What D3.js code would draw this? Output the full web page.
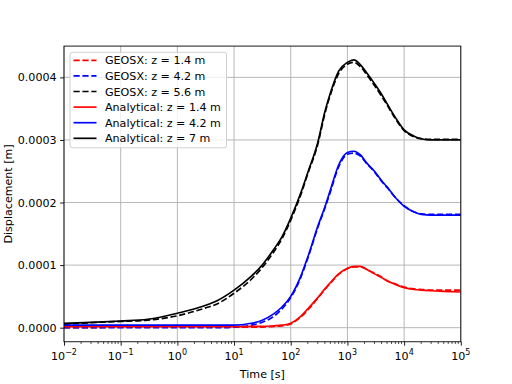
<!DOCTYPE html>
<html>
<head>
<meta charset="utf-8">
<script src="https://cdn.jsdelivr.net/npm/d3@7"></script>
<style>
  body { margin: 0; background: #fff; }
</style>
</head>
<body>
<script>
// values are in units of 1e-4 m
const UNIT = 1e-4;
const FONT = "DejaVu Sans";

const timeSteps = [0.01, 0.03, 0.1, 0.3, 1, 3, 5, 10, 20, 30, 50, 70, 100, 150, 200, 300, 400, 500, 700,
  1000, 1300, 1700, 2200, 3000, 4000, 5000, 7000, 10000, 15000, 20000, 30000, 50000, 100000];

const geosx14 = [0.00, 0.00, 0.01, 0.01, 0.01, 0.01, 0.01, 0.01, 0.01, 0.01, 0.02, 0.03, 0.06, 0.17, 0.28, 0.47,
  0.61, 0.71, 0.85, 0.94, 0.97, 0.97, 0.93, 0.87, 0.81, 0.75, 0.70, 0.65, 0.62, 0.61, 0.60, 0.60, 0.60];
const geosx42 = [0.00, 0.00, 0.00, 0.00, 0.00, 0.00, 0.00, 0.01, 0.04, 0.08, 0.18, 0.30, 0.48, 0.80, 1.11, 1.60,
  1.91, 2.17, 2.57, 2.77, 2.79, 2.74, 2.62, 2.49, 2.34, 2.24, 2.08, 1.95, 1.85, 1.82, 1.81, 1.81, 1.81];
const geosx56 = [0.055, 0.08, 0.10, 0.12, 0.19, 0.31, 0.38, 0.55, 0.77, 0.94, 1.21, 1.42, 1.72, 2.12, 2.46, 2.93,
  3.42, 3.72, 4.06, 4.21, 4.24, 4.17, 4.04, 3.87, 3.70, 3.56, 3.34, 3.15, 3.05, 3.02, 3.01, 3.01, 3.01];

const analytic14 = [0.015, 0.015, 0.015, 0.015, 0.015, 0.015, 0.015, 0.015, 0.02, 0.02, 0.03, 0.04, 0.07, 0.18, 0.30, 0.48,
  0.62, 0.72, 0.86, 0.95, 0.98, 0.98, 0.93, 0.86, 0.80, 0.75, 0.69, 0.64, 0.61, 0.60, 0.59, 0.58, 0.57];
const analytic42 = [0.04, 0.04, 0.04, 0.04, 0.04, 0.04, 0.04, 0.04, 0.07, 0.11, 0.22, 0.33, 0.50, 0.82, 1.13, 1.62,
  1.93, 2.20, 2.60, 2.80, 2.82, 2.76, 2.63, 2.50, 2.35, 2.25, 2.08, 1.94, 1.85, 1.81, 1.80, 1.80, 1.80];
const analytic7 = [0.07, 0.085, 0.107, 0.134, 0.23, 0.35, 0.43, 0.60, 0.82, 0.98, 1.25, 1.45, 1.75, 2.15, 2.48, 2.96,
  3.45, 3.75, 4.10, 4.24, 4.28, 4.20, 4.07, 3.90, 3.73, 3.58, 3.36, 3.16, 3.06, 3.02, 3.00, 3.00, 3.00];

const series = [
  { label: "GEOSX: z = 1.4 m", values: geosx14, color: "#ff0000", dashed: true },
  { label: "GEOSX: z = 4.2 m", values: geosx42, color: "#0000ff", dashed: true },
  { label: "GEOSX: z = 5.6 m", values: geosx56, color: "#000000", dashed: true },
  { label: "Analytical: z = 1.4 m", values: analytic14, color: "#ff0000", dashed: false },
  { label: "Analytical: z = 4.2 m", values: analytic42, color: "#0000ff", dashed: false },
  { label: "Analytical: z = 7 m", values: analytic7, color: "#000000", dashed: false },
];

const xTicks = [1e-2, 1e-1, 1e0, 1e1, 1e2, 1e3, 1e4, 1e5];
const yTicks = [0, 0.0001, 0.0002, 0.0003, 0.0004];

const width = 512, height = 384;
const axLeft = 64, axRight = 460.8, axTop = 46.08, axBottom = 341.76;

const svg = d3.select("body").append("svg")
  .attr("width", width).attr("height", height)
  .attr("font-family", FONT);

const x = d3.scaleLog().domain([1e-2, 1e5]).range([axLeft, axRight]);
const y = d3.scaleLinear().domain([-0.0000225, 0.00045]).range([axBottom, axTop]);

// grid
const grid = svg.append("g").attr("stroke", "#b0b0b0").attr("stroke-width", 0.9);
xTicks.forEach(t => {
  grid.append("line").attr("x1", x(t)).attr("x2", x(t)).attr("y1", axTop).attr("y2", axBottom);
});
yTicks.forEach(v => {
  grid.append("line").attr("x1", axLeft).attr("x2", axRight).attr("y1", y(v)).attr("y2", y(v));
});

svg.append("clipPath").attr("id", "clip")
  .append("rect").attr("x", axLeft).attr("y", axTop)
  .attr("width", axRight - axLeft).attr("height", axBottom - axTop);

const line = d3.line()
  .x((d, i) => x(timeSteps[i]))
  .y(d => y(d * UNIT))
  .curve(d3.curveMonotoneX);

const plot = svg.append("g").attr("clip-path", "url(#clip)");
series.forEach(s => {
  plot.append("path")
    .attr("d", line(s.values))
    .attr("fill", "none")
    .attr("stroke", s.color)
    .attr("stroke-width", 1.67)
    .attr("stroke-dasharray", s.dashed ? "6.2,2.7" : null);
});

// axes
const xAxis = d3.axisBottom(x).tickValues(xTicks).tickSize(3.9).tickPadding(3.5).tickFormat("");
const gx = svg.append("g").attr("transform", `translate(0,${axBottom})`).call(xAxis);
const minor = [];
for (let e = -2; e < 5; e++) for (let m = 2; m < 10; m++) minor.push(m * Math.pow(10, e));
gx.selectAll(".minor").data(minor).enter().append("line")
  .attr("x1", d => x(d)).attr("x2", d => x(d)).attr("y1", 0).attr("y2", 2.2)
  .attr("stroke", "#000").attr("stroke-width", 0.7);

xTicks.forEach(t => {
  const e = Math.round(Math.log10(t));
  const txt = gx.append("text")
    .attr("x", x(t)).attr("y", 18.5)
    .attr("text-anchor", "middle").attr("font-size", 11.1)
    .attr("font-family", FONT).attr("fill", "#000");
  txt.append("tspan").text("10");
  txt.append("tspan").attr("dy", -5).attr("font-size", 8).text(String(e).replace("-", "\u2212"));
});

const yAxis = d3.axisLeft(y).tickValues(yTicks).tickSize(3.9).tickPadding(3.5).tickFormat(d3.format(".4f"));
const gy = svg.append("g").attr("transform", `translate(${axLeft},0)`).call(yAxis);
gy.selectAll("text").attr("font-size", 11.1).attr("font-family", FONT).attr("fill", "#000");

[gx, gy].forEach(g => {
  g.attr("font-family", FONT);
  g.select(".domain").remove();
  g.selectAll(".tick line").attr("stroke-width", 0.9);
});

// frame
svg.append("rect").attr("x", axLeft).attr("y", axTop)
  .attr("width", axRight - axLeft).attr("height", axBottom - axTop)
  .attr("fill", "none").attr("stroke", "#000").attr("stroke-width", 0.9);

svg.append("text").attr("x", (axLeft + axRight) / 2).attr("y", 378)
  .attr("text-anchor", "middle").attr("font-size", 11.1).attr("font-family", FONT).text("Time [s]");
svg.append("text").attr("transform", `translate(11.5,${(axTop + axBottom) / 2}) rotate(-90)`)
  .attr("text-anchor", "middle").attr("font-size", 11.1).attr("font-family", FONT).text("Displacement [m]");

// legend
const legend = svg.append("g");
legend.append("rect").attr("x", 70).attr("y", 52.3).attr("width", 156.5).attr("height", 95.5)
  .attr("rx", 2.5).attr("fill", "#fff").attr("fill-opacity", 0.8)
  .attr("stroke", "#cccccc").attr("stroke-width", 0.9);
series.forEach((s, i) => {
  const cy = 60.3 + i * 15.6;
  legend.append("line").attr("x1", 73.5).attr("x2", 96.5).attr("y1", cy).attr("y2", cy)
    .attr("stroke", s.color).attr("stroke-width", 1.67)
    .attr("stroke-dasharray", s.dashed ? "6.2,2.7" : null);
  legend.append("text").attr("x", 105).attr("y", cy + 4)
    .attr("font-size", 11.1).attr("font-family", FONT).text(s.label);
});
</script>
</body>
</html>
